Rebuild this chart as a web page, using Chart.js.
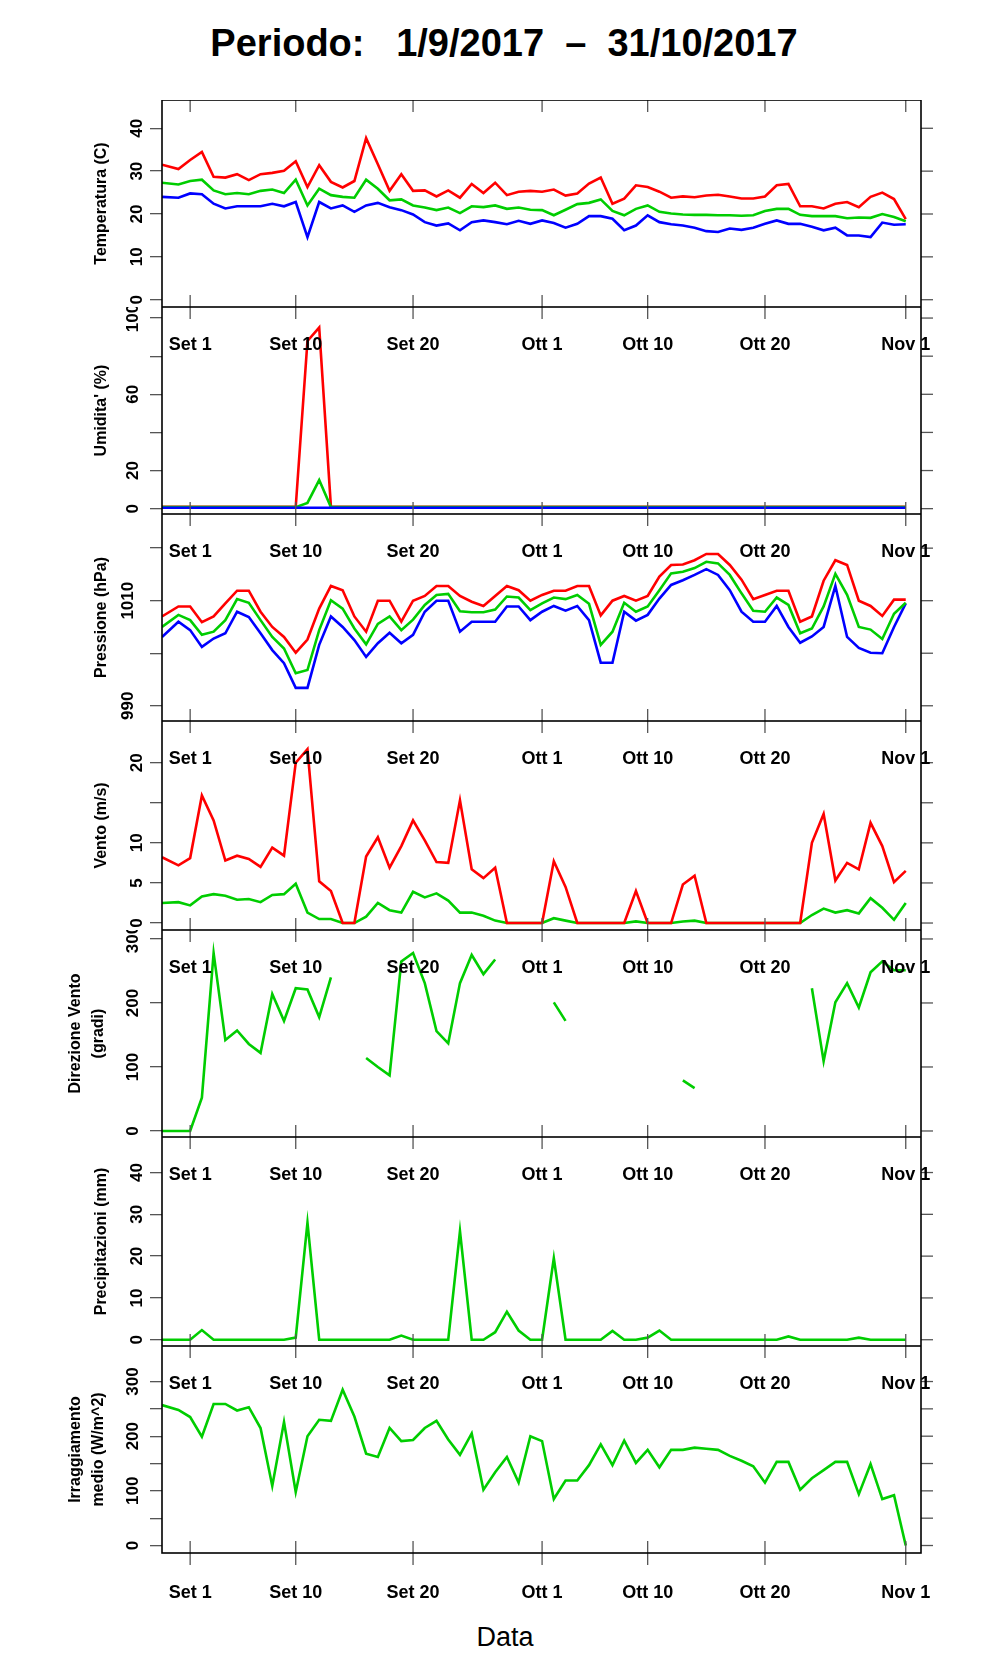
<!DOCTYPE html>
<html>
<head>
<meta charset="utf-8">
<script src="https://cdn.jsdelivr.net/npm/chart.js@4/dist/chart.umd.min.js"></script>
<style>
  body { margin: 0; background: #fff; font-family: "Liberation Sans", Arial, sans-serif; }
  #wrap { position: relative; width: 996px; height: 1680px; }
  canvas { position: absolute; left: 0; }
  #title { position: absolute; top: 22px; left: 0; width: 1008px; text-align: center; font-weight: bold; font-size: 38px; white-space: pre; }
  #xlab { position: absolute; top: 1622px; left: 0; width: 1010px; text-align: center; font-size: 27px; }
</style>
</head>
<body>
<div id="wrap">
  <div id="title">Periodo:   1/9/2017  –  31/10/2017</div>
  <div id="xlab">Data</div>
</div>
<script>
// days relative to 1 Sep 2017 (0 = Set 1); first sample sits on the left edge
const days = Array.from({ length: 64 }, (_, i) => (i === 0 ? -2.4 : i - 2));

const xTickDays = [0, 9, 19, 30, 39, 49, 61];
const xTickLabels = ['Set 1', 'Set 10', 'Set 20', 'Ott 1', 'Ott 10', 'Ott 20', 'Nov 1'];

const tempMax = [31.5, 30.5, 32.6, 34.5, 28.7, 28.5, 29.3, 27.9, 29.3, 29.6, 30.1, 32.3,
  26.3, 31.4, 27.5, 26.2, 27.7, 37.7, 31.6, 25.4, 29.3, 25.4,
  25.5, 24.1, 25.5, 23.8, 27.0, 24.9, 27.3, 24.4, 25.2, 25.4,
  25.2, 25.7, 24.3, 24.8, 27.1, 28.5, 22.4, 23.6, 26.7, 26.3,
  25.2, 23.8, 24.1, 23.9, 24.3, 24.5, 24.1, 23.6, 23.6, 24.1,
  26.7, 27.0, 21.8, 21.8, 21.3, 22.4, 22.8, 21.6, 24.0, 25.0,
  23.5, 18.8];
const tempMed = [27.3, 26.9, 27.7, 28.0, 25.5, 24.6, 24.9, 24.6, 25.4, 25.7, 24.9, 28.0,
  22.0, 25.9, 24.4, 24.0, 23.8, 28.0, 25.9, 23.2, 23.4, 22.0,
  21.5, 20.9, 21.5, 20.2, 21.8, 21.6, 22.0, 21.2, 21.5, 21.0,
  20.9, 19.7, 21.0, 22.3, 22.6, 23.4, 20.7, 19.7, 21.2, 22.0,
  20.5, 20.1, 19.9, 19.8, 19.8, 19.7, 19.7, 19.6, 19.7, 20.7,
  21.2, 21.2, 19.8, 19.5, 19.5, 19.5, 19.0, 19.2, 19.1, 20.0,
  19.3, 18.3];
const tempMin = [24.0, 23.8, 24.8, 24.6, 22.4, 21.3, 21.8, 21.8, 21.8, 22.4, 21.8, 22.8,
  14.6, 22.8, 21.3, 22.0, 20.5, 22.0, 22.6, 21.6, 20.9, 19.9,
  18.1, 17.3, 17.8, 16.2, 18.1, 18.5, 18.1, 17.6, 18.4, 17.7,
  18.5, 17.9, 16.8, 17.7, 19.5, 19.5, 18.9, 16.2, 17.3, 19.7,
  18.1, 17.6, 17.3, 16.8, 16.0, 15.8, 16.6, 16.3, 16.8, 17.7,
  18.5, 17.7, 17.7, 17.0, 16.2, 16.8, 15.0, 15.0, 14.6, 18.0,
  17.5, 17.6];

const humMax = [1, 1, 1, 1, 1, 1, 1, 1, 1, 1, 1, 1,
  88, 95, 1, 1, 1, 1, 1, 1, 1, 1,
  1, 1, 1, 1, 1, 1, 1, 1, 1, 1,
  1, 1, 1, 1, 1, 1, 1, 1, 1, 1,
  1, 1, 1, 1, 1, 1, 1, 1, 1, 1,
  1, 1, 1, 1, 1, 1, 1, 1, 1, 1,
  1, 1];
const humMed = [0.8, 0.8, 0.8, 0.8, 0.8, 0.8, 0.8, 0.8, 0.8, 0.8, 0.8, 0.8,
  3, 15, 0.8, 0.8, 0.8, 0.8, 0.8, 0.8, 0.8, 0.8,
  0.8, 0.8, 0.8, 0.8, 0.8, 0.8, 0.8, 0.8, 0.8, 0.8,
  0.8, 0.8, 0.8, 0.8, 0.8, 0.8, 0.8, 0.8, 0.8, 0.8,
  0.8, 0.8, 0.8, 0.8, 0.8, 0.8, 0.8, 0.8, 0.8, 0.8,
  0.8, 0.8, 0.8, 0.8, 0.8, 0.8, 0.8, 0.8, 0.8, 0.8,
  0.8, 0.8];
const humMin = [0.5, 0.5, 0.5, 0.5, 0.5, 0.5, 0.5, 0.5, 0.5, 0.5, 0.5, 0.5,
  0.5, 0.5, 0.5, 0.5, 0.5, 0.5, 0.5, 0.5, 0.5, 0.5,
  0.5, 0.5, 0.5, 0.5, 0.5, 0.5, 0.5, 0.5, 0.5, 0.5,
  0.5, 0.5, 0.5, 0.5, 0.5, 0.5, 0.5, 0.5, 0.5, 0.5,
  0.5, 0.5, 0.5, 0.5, 0.5, 0.5, 0.5, 0.5, 0.5, 0.5,
  0.5, 0.5, 0.5, 0.5, 0.5, 0.5, 0.5, 0.5, 0.5, 0.5,
  0.5, 0.5];

const presMax = [1007.0, 1008.9, 1008.9, 1005.9, 1007.0, 1009.5, 1011.9, 1011.9, 1007.9, 1005.0, 1003.1, 1000.1,
  1002.6, 1008.5, 1012.8, 1012.0, 1007.0, 1004.1, 1010.0, 1010.0, 1006.0, 1010.0,
  1010.9, 1012.8, 1012.8, 1010.9, 1009.8, 1009.0, 1010.9, 1012.8, 1012.0, 1010.0,
  1011.1, 1011.9, 1011.9, 1012.8, 1012.8, 1007.2, 1010.0, 1010.9, 1010.0, 1010.9,
  1014.6, 1016.8, 1016.9, 1017.7, 1018.9, 1018.9, 1016.8, 1014.0, 1010.3, 1011.1,
  1011.9, 1011.9, 1006.0, 1007.0, 1013.8, 1017.7, 1016.8, 1010.0, 1009.0, 1007.1,
  1010.2, 1010.2];
const presMed = [1005.0, 1007.3, 1006.3, 1003.5, 1004.1, 1006.3, 1010.3, 1009.6, 1006.3, 1003.1, 1000.9, 996.2,
  996.8, 1004.4, 1010.1, 1008.5, 1004.7, 1001.7, 1005.6, 1007.0, 1004.4, 1006.4,
  1009.2, 1011.1, 1011.3, 1008.0, 1007.8, 1007.8, 1008.3, 1010.8, 1010.6, 1008.2,
  1009.5, 1010.6, 1010.3, 1011.1, 1009.4, 1001.6, 1004.1, 1009.6, 1007.9, 1008.9,
  1012.0, 1015.2, 1015.5, 1016.2, 1017.4, 1017.1, 1014.9, 1011.4, 1008.1, 1007.9,
  1010.6, 1009.2, 1003.8, 1004.7, 1008.9, 1015.1, 1011.1, 1005.0, 1004.5, 1002.7,
  1007.5, 1009.6];
const presMin = [1003.1, 1006.0, 1004.4, 1001.2, 1002.8, 1003.8, 1007.9, 1006.9, 1003.8, 1000.6, 998.1, 993.4,
  993.4, 1001.6, 1007.0, 1005.0, 1002.5, 999.3, 1001.9, 1003.9, 1001.9, 1003.5,
  1007.9, 1010.0, 1010.0, 1004.1, 1006.0, 1006.0, 1006.0, 1008.9, 1008.9, 1006.3,
  1007.9, 1009.0, 1008.1, 1009.0, 1006.3, 998.2, 998.2, 1007.9, 1006.2, 1007.3,
  1010.4, 1013.0, 1013.9, 1014.9, 1016.0, 1014.9, 1012.0, 1007.9, 1006.0, 1006.0,
  1009.0, 1005.0, 1002.0, 1003.2, 1005.0, 1012.8, 1003.1, 1001.0, 1000.1, 1000.0,
  1005.0, 1009.5];

const windMax = [8.2, 7.2, 8.1, 15.9, 12.8, 7.8, 8.4, 8.0, 7.0, 9.4, 8.4, 20.0,
  21.7, 5.2, 4.0, 0, 0, 8.3, 10.7, 6.9, 9.6, 12.8,
  10.3, 7.6, 7.5, 15.3, 6.7, 5.6, 6.9, 0, 0, 0,
  0, 7.7, 4.5, 0, 0, 0, 0, 0, 4.0, 0,
  0, 0, 4.8, 5.9, 0, 0, 0, 0, 0, 0,
  0, 0, 0, 10.0, 13.6, 5.3, 7.5, 6.7, 12.5, 9.6,
  5.1, 6.5];
const windMed = [2.5, 2.6, 2.2, 3.3, 3.6, 3.4, 2.9, 3.0, 2.6, 3.5, 3.6, 4.9,
  1.3, 0.5, 0.5, 0, 0, 0.8, 2.5, 1.6, 1.3, 3.9,
  3.2, 3.7, 2.8, 1.3, 1.3, 0.9, 0.3, 0, 0, 0,
  0, 0.6, 0.3, 0, 0, 0, 0, 0, 0.2, 0,
  0, 0, 0.2, 0.3, 0, 0, 0, 0, 0, 0,
  0, 0, 0, 1.0, 1.8, 1.3, 1.6, 1.2, 3.1, 1.9,
  0.4, 2.5];

const windDir = [0, 0, 0, 52, 278, 142, 157, 136, 122, 214, 172, 223,
  221, 178, 240, null, null, 114, 100, 87, 265, 278,
  231, 156, 137, 231, 275, 245, 268, null, null, null,
  null, 201, 172, null, null, null, null, null, null, null,
  null, null, 79, 67, null, null, null, null, null, null,
  null, null, null, 223, 109, 201, 231, 193, 248, 265,
  251, 251];

const rain = [0, 0, 0, 2.3, 0, 0, 0, 0, 0, 0, 0, 0.5,
  28, 0, 0, 0, 0, 0, 0, 0, 1, 0,
  0, 0, 0, 26, 0, 0, 1.8, 6.7, 2.2, 0,
  0, 19.5, 0, 0, 0, 0, 2.1, 0, 0, 0.5,
  2.2, 0, 0, 0, 0, 0, 0, 0, 0, 0,
  0, 0.8, 0, 0, 0, 0, 0, 0.5, 0, 0,
  0, 0];

const irr = [257, 248, 235, 199, 259, 259, 247, 253, 215, 109, 226, 98,
  200, 230, 228, 285, 236, 168, 162, 215, 191, 193,
  215, 228, 194, 166, 205, 102, 134, 162, 115, 200,
  191, 85, 119, 119, 147, 185, 147, 192, 151, 175,
  143, 175, 175, 179, 177, 175, 164, 155, 145, 115,
  153, 153, 102, 123, 138, 153, 153, 94, 149, 85,
  92, 0];

const tempTicks = [0, 10, 20, 30, 40];
const humTicks = [0, 20, 40, 60, 80, 100];
const humLabels = [0, 20, 60, 100];
const presTicks = [990, 1000, 1010, 1020];
const presLabels = [990, 1010];
const windTicks = [0, 5, 10, 15, 20];
const windLabels = [0, 5, 10, 20];
const dirTicks = [0, 50, 100, 150, 200, 250, 300];
const dirLabels = [0, 100, 200, 300];
const rainTicks = [0, 10, 20, 30, 40];
const irrTicks = [0, 50, 100, 150, 200, 250, 300];
const irrLabels = [0, 100, 200, 300];

const RED = '#ff0000', GREEN = '#00cd00', BLUE = '#0000ff';

const panels = [
  { top: 100, h: 207, min: -1.7, max: 46.6, ticks: tempTicks, labels: tempTicks, title: ['Temperatura (C)'],
    series: [[tempMax, RED], [tempMed, GREEN], [tempMin, BLUE]] },
  { top: 307, h: 207, min: -2.8, max: 105.8, ticks: humTicks, labels: humLabels, title: ["Umidita' (%)"],
    series: [[humMin, BLUE], [humMed, GREEN], [humMax, RED]] },
  { top: 514, h: 207, min: 987.1, max: 1026.5, ticks: presTicks, labels: presLabels, title: ['Pressione (hPa)'],
    series: [[presMax, RED], [presMed, GREEN], [presMin, BLUE]] },
  { top: 721, h: 209, min: -0.87, max: 25.2, ticks: windTicks, labels: windLabels, title: ['Vento (m/s)'],
    series: [[windMax, RED], [windMed, GREEN]] },
  { top: 930, h: 207, min: -9.4, max: 314, ticks: dirTicks, labels: dirLabels, title: ['Direzione Vento', '(gradi)'],
    series: [[windDir, GREEN]] },
  { top: 1137, h: 209, min: -1.5, max: 48.5, ticks: rainTicks, labels: rainTicks, title: ['Precipitazioni (mm)'],
    series: [[rain, GREEN]] },
  { top: 1346, h: 207, min: -13.7, max: 365, ticks: irrTicks, labels: irrLabels, title: ['Irraggiamento', 'medio (W/m^2)'],
    series: [[irr, GREEN]] }
];

const FONT = '"Liberation Sans", Arial, sans-serif';

const framePlugin = {
  id: 'frame',
  afterDraw(chart, args, opts) {
    const { ctx, chartArea: a, scales: { x, y } } = chart;
    const line = (x1, y1, x2, y2) => { ctx.beginPath(); ctx.moveTo(x1, y1); ctx.lineTo(x2, y2); ctx.stroke(); };
    ctx.save();
    ctx.strokeStyle = '#555';
    ctx.lineWidth = 1.3;
    xTickDays.forEach(d => {
      const px = x.getPixelForValue(d);
      line(px, a.top, px, a.top + 12);
      line(px, a.bottom, px, a.bottom - 12);
      if (opts.last) line(px, a.bottom, px, a.bottom + 12);
    });
    y.ticks.forEach(t => {
      const py = y.getPixelForValue(t.value);
      line(a.right, py, a.right + 12, py);
    });
    ctx.strokeStyle = '#000';
    ctx.lineWidth = 1.6;
    ctx.strokeRect(a.left, a.top, a.right - a.left, a.bottom - a.top);

    // date labels of the panel above, and of this one if last
    ctx.fillStyle = '#000';
    ctx.font = 'bold 18px ' + FONT;
    ctx.textAlign = 'center';
    ctx.textBaseline = 'middle';
    xTickDays.forEach((d, i) => {
      const px = x.getPixelForValue(d);
      if (opts.index > 0) ctx.fillText(xTickLabels[i], px, a.top + 38);
      if (opts.last) ctx.fillText(xTickLabels[i], px, a.bottom + 40);
    });

    // axis title
    ctx.font = 'bold 16px ' + FONT;
    const lines = opts.title;
    const cy = (a.top + a.bottom) / 2;
    lines.forEach((t, i) => {
      const tx = lines.length === 1 ? 102 : 76 + i * 23;
      ctx.save();
      ctx.translate(tx, cy);
      ctx.rotate(-Math.PI / 2);
      ctx.fillText(t, 0, 0);
      ctx.restore();
    });
    ctx.restore();
  }
};

const wrap = document.getElementById('wrap');
panels.forEach((p, idx) => {
  const last = idx === panels.length - 1;
  const extra = last ? 70 : 0;
  const cv = document.createElement('canvas');
  cv.style.top = p.top + 'px';
  cv.style.width = '996px';
  cv.style.height = (p.h + extra) + 'px';
  cv.width = 996;
  cv.height = p.h + extra;
  wrap.appendChild(cv);

  new Chart(cv, {
    type: 'line',
    data: {
      datasets: p.series.map(([vals, color]) => ({
        data: days.map((d, i) => ({ x: d, y: vals[i] })),
        borderColor: color,
        borderWidth: 2.6,
        pointRadius: 0,
        tension: 0,
        spanGaps: false
      }))
    },
    options: {
      responsive: false,
      animation: false,
      devicePixelRatio: 1,
      layout: { padding: { left: 0, right: 75, top: 0, bottom: extra } },
      plugins: {
        legend: { display: false },
        tooltip: { enabled: false },
        frame: { index: idx, last: last, title: p.title }
      },
      scales: {
        x: { type: 'linear', display: false, min: -2.4, max: 62.3 },
        y: {
          min: p.min,
          max: p.max,
          afterBuildTicks: s => { s.ticks = p.ticks.map(v => ({ value: v })); },
          afterFit: s => { s.width = 162; s.paddingTop = 0; s.paddingBottom = 0; },
          border: { display: false },
          grid: { drawOnChartArea: false, tickLength: 12, color: '#555', lineWidth: 1.3 },
          ticks: {
            minRotation: 90,
            maxRotation: 90,
            crossAlign: 'center',
            padding: 3,
            color: '#000',
            font: { family: FONT, size: 17, weight: 'bold' },
            callback: v => p.labels.includes(v) ? String(v) : ''
          }
        }
      }
    },
    plugins: [framePlugin]
  });
});
</script>
</body>
</html>
